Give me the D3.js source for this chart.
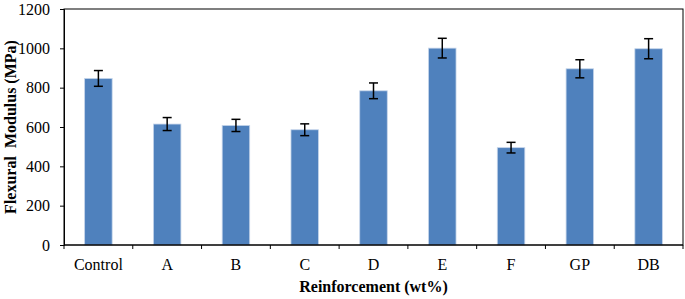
<!DOCTYPE html>
<html>
<head>
<meta charset="utf-8">
<script src="https://cdn.jsdelivr.net/npm/d3@7"></script>
<style>
  body { margin: 0; background: #fff; }
</style>
</head>
<body>
<div id="wrapper"></div>
<script>
const categories = ["Control", "A", "B", "C", "D", "E", "F", "GP", "DB"]
const modulus = [847, 615, 608, 586, 784, 1001, 495, 896, 998]
const errors = [40, 33, 31, 30, 40, 50, 27, 46, 51]
const yTicks = [0, 200, 400, 600, 800, 1000, 1200]

const serif = "Liberation Serif"

function drawChart() {
    let dimensions = {
        width: 685,
        height: 299,
        margin: { top: 9, right: 2, bottom: 54, left: 64 }
    }
    let innerW = dimensions.width - dimensions.margin.left - dimensions.margin.right
    let innerH = dimensions.height - dimensions.margin.top - dimensions.margin.bottom

    let svg = d3.select("#wrapper")
        .append("svg")
        .attr("width", dimensions.width)
        .attr("height", dimensions.height)
        .attr("font-family", serif)

    let g = svg.append("g")
        .attr("transform", `translate(${dimensions.margin.left},${dimensions.margin.top})`)

    let x = d3.scaleBand()
        .domain(categories)
        .range([0, innerW])
        .paddingInner(0.6)
        .paddingOuter(0.3)

    let y = d3.scaleLinear()
        .domain([0, 1200])
        .range([innerH, 0])

    // bars
    g.selectAll("rect.bar")
        .data(categories)
        .enter()
        .append("rect")
        .attr("class", "bar")
        .attr("x", d => x(d))
        .attr("width", x.bandwidth())
        .attr("y", (d, i) => y(modulus[i]))
        .attr("height", (d, i) => innerH - y(modulus[i]))
        .attr("fill", "#4f81bd")
        .attr("stroke", "#c5d5ea")
        .attr("stroke-width", 0.8)

    // error bars
    let cx = d => x(d) + x.bandwidth() / 2
    let eb = g.selectAll("g.err")
        .data(categories)
        .enter()
        .append("g")
        .attr("class", "err")
        .attr("stroke", "#000")
        .attr("stroke-width", 1.5)
    eb.append("line")
        .attr("x1", cx).attr("x2", cx)
        .attr("y1", (d, i) => y(modulus[i] + errors[i]))
        .attr("y2", (d, i) => y(modulus[i] - errors[i]))
    eb.append("line")
        .attr("x1", d => cx(d) - 4.5).attr("x2", d => cx(d) + 4.5)
        .attr("y1", (d, i) => y(modulus[i] + errors[i]))
        .attr("y2", (d, i) => y(modulus[i] + errors[i]))
    eb.append("line")
        .attr("x1", d => cx(d) - 4.5).attr("x2", d => cx(d) + 4.5)
        .attr("y1", (d, i) => y(modulus[i] - errors[i]))
        .attr("y2", (d, i) => y(modulus[i] - errors[i]))

    // frame
    g.append("rect")
        .attr("width", innerW)
        .attr("height", innerH)
        .attr("fill", "none")
        .attr("stroke", "#000")
        .attr("stroke-width", 1)

    // y axis
    let yAxis = g.append("g")
        .call(d3.axisLeft(y).tickValues(yTicks).tickFormat(d3.format("d")).tickSize(4).tickPadding(10))
    yAxis.attr("font-family", serif).attr("font-size", 16)
    yAxis.selectAll("text").attr("fill", "#000")
    yAxis.select(".domain").attr("stroke", "#000")

    // x axis, ticks between categories
    let xBoundaries = d3.range(categories.length + 1).map(i => i * innerW / categories.length)
    let xAxis = g.append("g")
        .attr("transform", `translate(0,${innerH})`)
    xAxis.append("line")
        .attr("x1", 0).attr("x2", innerW)
        .attr("stroke", "#000")
    xAxis.selectAll("line.tick")
        .data(xBoundaries)
        .enter()
        .append("line")
        .attr("class", "tick")
        .attr("x1", d => d).attr("x2", d => d)
        .attr("y1", 0).attr("y2", 4)
        .attr("stroke", "#000")
    xAxis.selectAll("text")
        .data(categories)
        .enter()
        .append("text")
        .attr("x", d => cx(d))
        .attr("y", 25)
        .attr("text-anchor", "middle")
        .attr("font-family", serif)
        .attr("font-size", 16)
        .text(d => d)

    // axis titles
    svg.append("text")
        .attr("x", dimensions.margin.left + innerW / 2)
        .attr("y", 292)
        .attr("text-anchor", "middle")
        .attr("font-family", serif)
        .attr("font-size", 16)
        .attr("font-weight", "bold")
        .text("Reinforcement (wt%)")

    svg.append("text")
        .attr("transform", `translate(16,${dimensions.margin.top + innerH / 2}) rotate(-90)`)
        .attr("text-anchor", "middle")
        .attr("font-family", serif)
        .attr("font-size", 16)
        .attr("font-weight", "bold")
        .style("white-space", "pre")
        .text("Flexural  Modulus (MPa)")
}

drawChart()
</script>
</body>
</html>
